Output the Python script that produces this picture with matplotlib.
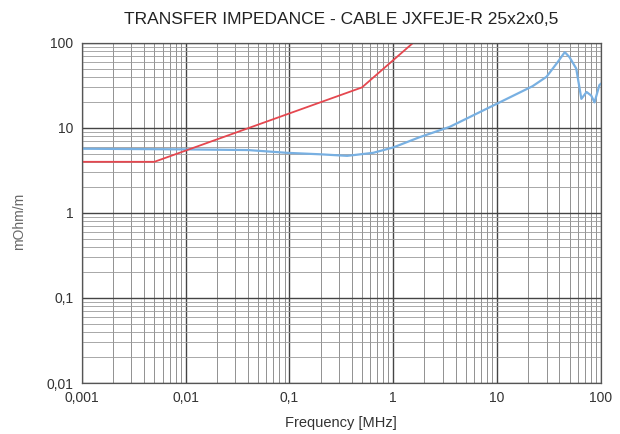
import matplotlib
matplotlib.use("Agg")
import matplotlib.pyplot as plt
from matplotlib.ticker import FixedLocator, FixedFormatter, LogLocator, NullFormatter

plt.rcParams['font.family'] = ['Liberation Sans', 'DejaVu Sans']

# limit curve (red)
red_f = [0.001, 0.005, 0.5, 1.55]
red_z = [4.0, 4.0, 30.0, 100.0]

# measured cable (blue)
blue_f = [0.001, 0.01, 0.04, 0.095, 0.2, 0.36, 0.64, 1.0, 1.8, 3.5, 10.6, 22, 30,
          38.6, 45, 50, 58, 65, 73, 81, 87, 97, 100]
blue_z = [5.7, 5.6, 5.5, 5.1, 4.9, 4.7, 5.1, 5.9, 7.8, 10.3, 20, 31, 40,
          60, 78, 68, 50, 22, 26.5, 24, 20, 32, 33]

xticks = [0.001, 0.01, 0.1, 1, 10, 100]
xlabels = ['0,001', '0,01', '0,1', '1', '10', '100']
yticks = [0.01, 0.1, 1, 10, 100]
ylabels = ['0,01', '0,1', '1', '10', '100']

fig = plt.figure(figsize=(6.2, 4.34), dpi=100)
ax = fig.add_axes([0.132, 0.1175, 0.837, 0.7835])

ax.plot(blue_f, blue_z, color='#78b0e2', lw=1.6)
ax.plot(red_f, red_z, color='#e5474f', lw=1.3)

ax.set_xscale('log')
ax.set_yscale('log')
ax.set_xlim(0.001, 100)
ax.set_ylim(0.01, 100)

ax.xaxis.set_major_locator(FixedLocator(xticks))
ax.xaxis.set_major_formatter(FixedFormatter(xlabels))
ax.yaxis.set_major_locator(FixedLocator(yticks))
ax.yaxis.set_major_formatter(FixedFormatter(ylabels))
ax.xaxis.set_minor_locator(LogLocator(base=10, subs=range(2, 10), numticks=20))
ax.yaxis.set_minor_locator(LogLocator(base=10, subs=range(2, 10), numticks=20))
ax.xaxis.set_minor_formatter(NullFormatter())
ax.yaxis.set_minor_formatter(NullFormatter())

ax.grid(which='major', color='#444444', lw=1.0)
ax.xaxis.grid(which='minor', color='#808080', lw=0.6)
ax.yaxis.grid(which='minor', color='#9a9a9a', lw=0.6)
ax.set_axisbelow(True)
ax.tick_params(which='both', length=0, labelsize=10, colors='#333333', pad=6)
for s in ax.spines.values():
    s.set_color('#555555')
    s.set_linewidth(0.9)

ax.set_title('TRANSFER IMPEDANCE - CABLE JXFEJE-R 25x2x0,5', fontsize=12.5,
             color='#222222', pad=14)
ax.set_xlabel('Frequency [MHz]', fontsize=10.5, color='#333333', labelpad=8)
fig.text(0.03, 0.49, 'mOhm/m', rotation=90, fontsize=10, color='#666666',
         ha='center', va='center')

fig.savefig('out.png', dpi=100)
